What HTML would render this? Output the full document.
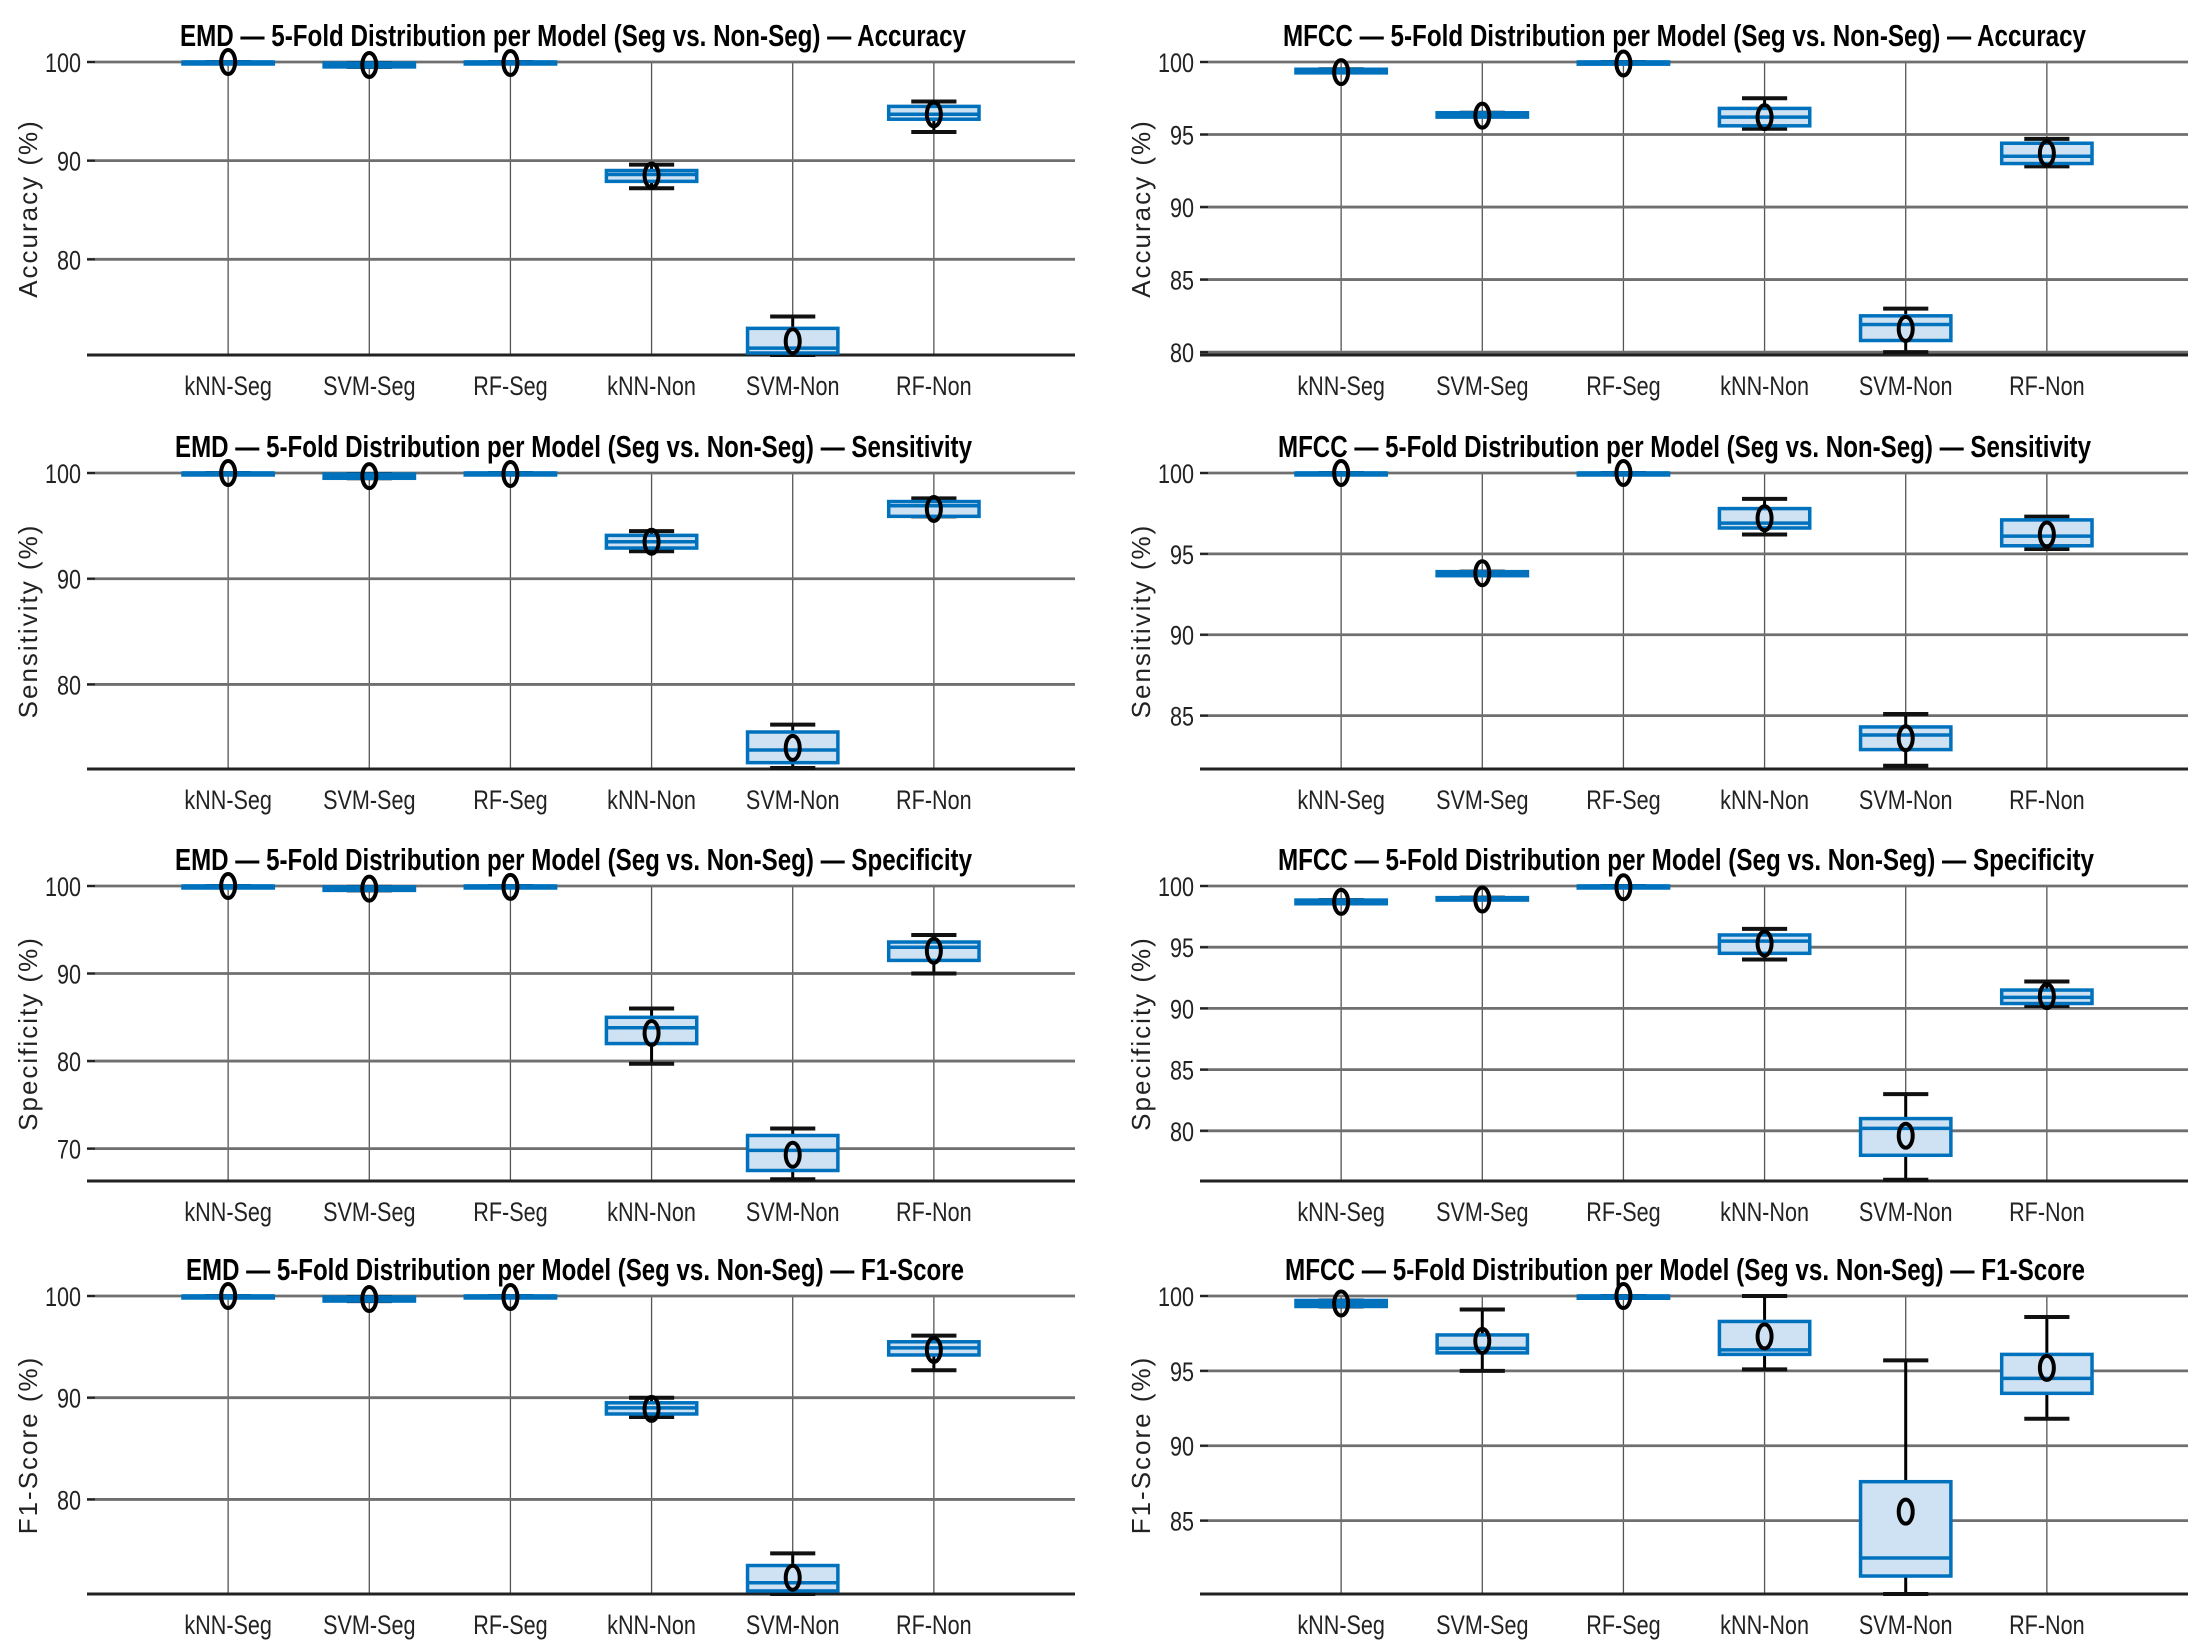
<!DOCTYPE html>
<html><head><meta charset="utf-8"><style>
html,body{margin:0;padding:0;background:#fff;}
svg{display:block;}
</style></head><body>
<svg id="fig" width="2198" height="1641" viewBox="0 0 2198 1641" xmlns="http://www.w3.org/2000/svg"></svg>
<script>
const categories = ["kNN-Seg","SVM-Seg","RF-Seg","kNN-Non","SVM-Non","RF-Non"];
// EMD Accuracy
const emdAccLo=[99.9,99.5,99.9,87.2,70.3,92.9], emdAccQ1=[99.8,99.5,99.8,87.9,70.5,94.2], emdAccMed=[100,99.7,100,88.6,71.0,94.7], emdAccQ3=[100,99.9,100,89.0,73.0,95.5], emdAccHi=[100,99.9,100,89.6,74.2,96.0], emdAccMean=[100,99.7,99.9,88.5,71.7,94.7];
// MFCC Accuracy
const mfAccLo=[99.3,96.3,99.9,95.4,80.0,92.8], mfAccQ1=[99.25,96.2,99.85,95.6,80.8,93.0], mfAccMed=[99.4,96.4,100,96.2,81.9,93.5], mfAccQ3=[99.5,96.5,100,96.8,82.5,94.4], mfAccHi=[99.5,96.5,100,97.5,83.0,94.7], mfAccMean=[99.3,96.3,99.9,96.2,81.6,93.7];
// EMD Sensitivity
const emdSenLo=[100,99.5,99.9,92.6,72.1,95.9], emdSenQ1=[99.85,99.5,99.85,92.9,72.6,95.9], emdSenMed=[100,99.7,100,93.5,73.8,96.9], emdSenQ3=[100,99.9,100,94.1,75.5,97.3], emdSenHi=[100,99.9,100,94.5,76.2,97.6], emdSenMean=[100,99.7,99.9,93.5,74.0,96.6];
// MFCC Sensitivity
const mfSenLo=[100,93.7,100,96.2,81.9,95.3], mfSenQ1=[99.9,93.65,99.9,96.6,82.9,95.5], mfSenMed=[100,93.8,100,96.9,83.8,96.1], mfSenQ3=[100,93.9,100,97.8,84.3,97.1], mfSenHi=[100,93.9,100,98.4,85.1,97.3], mfSenMean=[100,93.8,100,97.2,83.6,96.2];
// EMD Specificity
const emdSpeLo=[100,99.5,99.9,79.7,66.5,90.0], emdSpeQ1=[99.8,99.5,99.8,82.0,67.5,91.5], emdSpeMed=[100,99.7,100,83.8,69.8,93.0], emdSpeQ3=[100,99.9,100,85.0,71.5,93.6], emdSpeHi=[100,99.9,100,86.0,72.3,94.4], emdSpeMean=[100,99.7,99.9,83.2,69.3,92.6];
// MFCC Specificity
const mfSpeLo=[98.6,98.9,100,94.0,76.0,90.2], mfSpeQ1=[98.55,98.85,99.9,94.5,78.0,90.4], mfSpeMed=[98.7,99.0,100,95.5,80.2,90.9], mfSpeQ3=[98.85,99.05,100,96.0,81.0,91.5], mfSpeHi=[98.85,99.05,100,96.5,83.0,92.2], mfSpeMean=[98.7,98.9,99.9,95.3,79.6,91.0];
// EMD F1
const emdF1Lo=[100,99.5,99.9,88.1,70.7,92.7], emdF1Q1=[99.85,99.5,99.85,88.4,71.0,94.2], emdF1Med=[100,99.7,100,89.0,71.8,94.9], emdF1Q3=[100,99.9,100,89.5,73.5,95.5], emdF1Hi=[100,99.9,100,90.0,74.7,96.1], emdF1Mean=[100,99.7,99.9,88.9,72.3,94.7];
// MFCC F1
const mfF1Lo=[99.3,95.0,100,95.1,80.1,91.8], mfF1Q1=[99.3,96.2,99.85,96.1,81.3,93.5], mfF1Med=[99.5,96.5,100,96.4,82.5,94.5], mfF1Q3=[99.7,97.4,100,98.3,87.6,96.1], mfF1Hi=[99.7,99.1,100,100,95.7,98.6], mfF1Mean=[99.5,97.0,100,97.3,85.6,95.2];

const NS="http://www.w3.org/2000/svg";
const svg=document.getElementById('fig');
function mk(tag,attrs,parent){const e=document.createElementNS(NS,tag);for(const k in attrs)e.setAttribute(k,attrs[k]);(parent||svg).appendChild(e);return e;}

const panels=[
 {id:'emd-accuracy',title:'EMD \u2014 5-Fold Distribution per Model (Seg vs. Non-Seg) \u2014 Accuracy',tx:180,tl:786,yl:'Accuracy (%)',x0:87,x1:1075,top:62,bot:355,ymin:70.3,ticks:[80,90,100],lo:emdAccLo,q1:emdAccQ1,med:emdAccMed,q3:emdAccQ3,hi:emdAccHi,mean:emdAccMean,ylx:28},
 {id:'mfcc-accuracy',title:'MFCC \u2014 5-Fold Distribution per Model (Seg vs. Non-Seg) \u2014 Accuracy',tx:1283,tl:803,yl:'Accuracy (%)',x0:1200,x1:2188,top:62,bot:355,ymin:79.8,ticks:[80,85,90,95,100],lo:mfAccLo,q1:mfAccQ1,med:mfAccMed,q3:mfAccQ3,hi:mfAccHi,mean:mfAccMean,ylx:1141},
 {id:'emd-sensitivity',title:'EMD \u2014 5-Fold Distribution per Model (Seg vs. Non-Seg) \u2014 Sensitivity',tx:175,tl:797,yl:'Sensitivity (%)',x0:87,x1:1075,top:473,bot:769,ymin:72,ticks:[80,90,100],lo:emdSenLo,q1:emdSenQ1,med:emdSenMed,q3:emdSenQ3,hi:emdSenHi,mean:emdSenMean,ylx:28},
 {id:'mfcc-sensitivity',title:'MFCC \u2014 5-Fold Distribution per Model (Seg vs. Non-Seg) \u2014 Sensitivity',tx:1278,tl:813,yl:'Sensitivity (%)',x0:1200,x1:2188,top:473,bot:769,ymin:81.7,ticks:[85,90,95,100],lo:mfSenLo,q1:mfSenQ1,med:mfSenMed,q3:mfSenQ3,hi:mfSenHi,mean:mfSenMean,ylx:1141},
 {id:'emd-specificity',title:'EMD \u2014 5-Fold Distribution per Model (Seg vs. Non-Seg) \u2014 Specificity',tx:175,tl:797,yl:'Specificity (%)',x0:87,x1:1075,top:886,bot:1181,ymin:66.3,ticks:[70,80,90,100],lo:emdSpeLo,q1:emdSpeQ1,med:emdSpeMed,q3:emdSpeQ3,hi:emdSpeHi,mean:emdSpeMean,ylx:28},
 {id:'mfcc-specificity',title:'MFCC \u2014 5-Fold Distribution per Model (Seg vs. Non-Seg) \u2014 Specificity',tx:1278,tl:816,yl:'Specificity (%)',x0:1200,x1:2188,top:886,bot:1181,ymin:75.9,ticks:[80,85,90,95,100],lo:mfSpeLo,q1:mfSpeQ1,med:mfSpeMed,q3:mfSpeQ3,hi:mfSpeHi,mean:mfSpeMean,ylx:1141},
 {id:'emd-f1-score',title:'EMD \u2014 5-Fold Distribution per Model (Seg vs. Non-Seg) \u2014 F1-Score',tx:186,tl:778,yl:'F1-Score (%)',x0:87,x1:1075,top:1296,bot:1594,ymin:70.7,ticks:[80,90,100],lo:emdF1Lo,q1:emdF1Q1,med:emdF1Med,q3:emdF1Q3,hi:emdF1Hi,mean:emdF1Mean,ylx:28},
 {id:'mfcc-f1-score',title:'MFCC \u2014 5-Fold Distribution per Model (Seg vs. Non-Seg) \u2014 F1-Score',tx:1285,tl:800,yl:'F1-Score (%)',x0:1200,x1:2188,top:1296,bot:1594,ymin:80.1,ticks:[85,90,95,100],lo:mfF1Lo,q1:mfF1Q1,med:mfF1Med,q3:mfF1Q3,hi:mfF1Hi,mean:mfF1Mean,ylx:1141}
];

panels.forEach(p=>{
  const g=mk('g',{});
  
  
  const xs=i=>p.x0+(p.x1-p.x0)*(i+1)/7;
  const ys=v=>p.top+(100-v)*(p.bot-p.top)/(100-p.ymin);
  const unit=(p.x1-p.x0)/7;
  const t=mk('text',{x:p.tx,y:p.top-16,'font-family':'"Liberation Sans",sans-serif','font-weight':'bold','font-size':31,textLength:p.tl,lengthAdjust:'spacingAndGlyphs',fill:'#000'},g);
  t.textContent=p.title;
  
  
  categories.forEach((c,i)=>{
    const l=mk('line',{x1:xs(i),x2:xs(i),y1:p.top,y2:p.bot,stroke:'#555','stroke-width':1.3},g);
    
    
  });
  p.ticks.forEach(v=>{
    const l=mk('line',{x1:p.x0,x2:p.x1,y1:ys(v),y2:ys(v),stroke:'#6f6f6f','stroke-width':2.8},g);
    
    
    const tk=mk('line',{x1:p.x0,x2:p.x0+8,y1:ys(v),y2:ys(v),stroke:'#222','stroke-width':2},g);
    
    
    const tl=mk('text',{x:p.x0-6,y:ys(v)+10,'text-anchor':'end','font-family':'"Liberation Sans",sans-serif','font-size':27,fill:'#222',transform:`translate(${p.x0-6},0) scale(0.8,1) translate(${-(p.x0-6)},0)`},g);
    tl.textContent=v;
    
    
  });
  const ax=mk('line',{x1:p.x0,x2:p.x1,y1:p.bot,y2:p.bot,stroke:'#222','stroke-width':3},g);
  
  
  const cy=(p.top+p.bot)/2;
  const yl=mk('text',{x:p.ylx,y:cy,'text-anchor':'middle','font-family':'"Liberation Sans",sans-serif','font-size':26,fill:'#222','letter-spacing':2,transform:`rotate(-90 ${p.ylx} ${cy})`,dy:9},g);
  yl.textContent=p.yl;
  
  
  categories.forEach((c,i)=>{
    const x=xs(i), bw=unit*0.64, cw=unit*0.32;
    const bg=mk('g',{},g);
    
    
    const wl=mk('line',{x1:x,x2:x,y1:ys(p.lo[i]),y2:ys(p.hi[i]),stroke:'#000','stroke-width':3},bg);
    
    
    [p.lo[i],p.hi[i]].forEach(v=>{
      const cap=mk('line',{x1:x-cw/2,x2:x+cw/2,y1:ys(v),y2:ys(v),stroke:'#111','stroke-width':4},bg);
      
      
    });
    const y3=ys(p.q3[i]), y1=ys(p.q1[i]);
    const r=mk('rect',{x:x-bw/2,y:y3,width:bw,height:Math.max(y1-y3,2),fill:'#cfe2f3',stroke:'#0072bd','stroke-width':3.5},bg);
    
    
    const m=mk('line',{x1:x-bw/2,x2:x+bw/2,y1:ys(p.med[i]),y2:ys(p.med[i]),stroke:'#0072bd','stroke-width':3.5},bg);
    
    
    const e=mk('ellipse',{cx:x,cy:ys(p.mean[i]),rx:7,ry:12,fill:'none',stroke:'#000','stroke-width':4},bg);
    
    
    const xl=mk('text',{x:x,y:p.bot+40,'text-anchor':'middle','font-family':'"Liberation Sans",sans-serif','font-size':27,fill:'#222',transform:`translate(${x},0) scale(0.8,1) translate(${-x},0)`},g);
    xl.textContent=c;
    
    
  });
});
</script>
</body></html>
